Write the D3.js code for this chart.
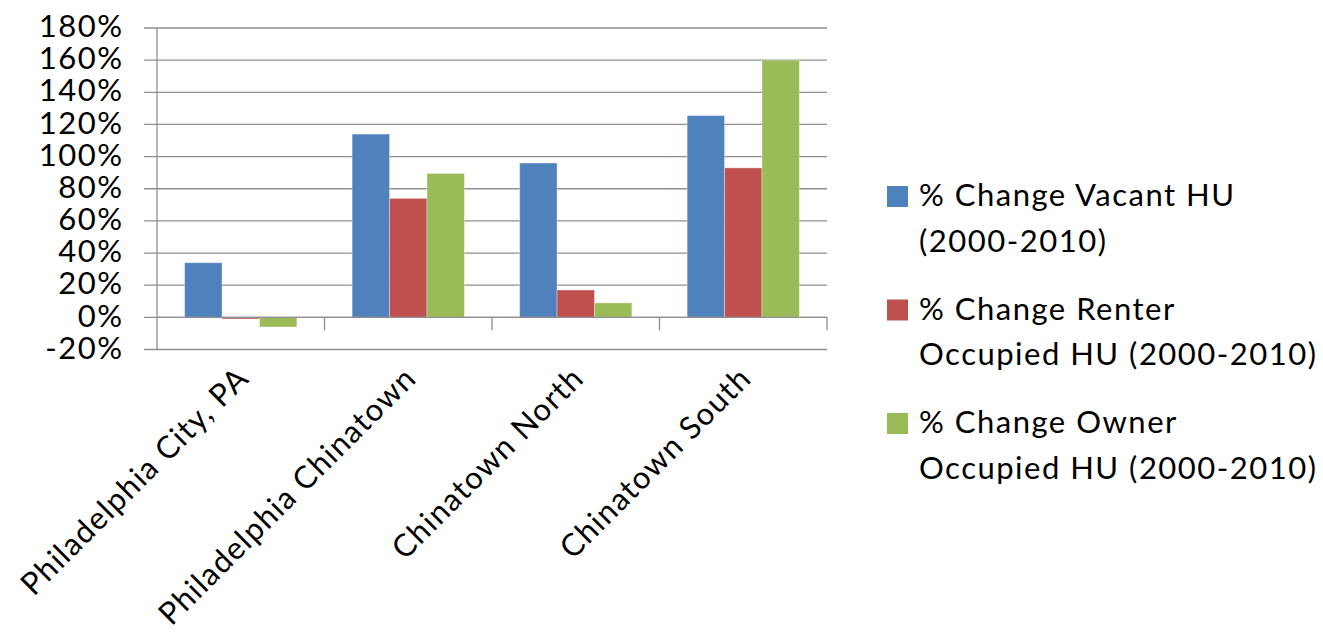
<!DOCTYPE html>
<html>
<head>
<meta charset="utf-8">
<script src="https://cdn.jsdelivr.net/npm/d3@7"></script>
<style>
  html, body { margin: 0; padding: 0; background: #fff; }
</style>
</head>
<body>
<div id="container"></div>
<script>
// data
const categories = ["Philadelphia City, PA", "Philadelphia Chinatown", "Chinatown North", "Chinatown South"];
const seriesNames = [
    ["% Change Vacant HU", "(2000-2010)"],
    ["% Change Renter", "Occupied HU (2000-2010)"],
    ["% Change Owner", "Occupied HU (2000-2010)"]];
const vacant = [34, 114, 96, 125.5];
const renter = [-1, 74, 17, 93];
const owner = [-6, 89.5, 9, 160];
const yTicks = [-20, 0, 20, 40, 60, 80, 100, 120, 140, 160, 180];

// svg size
const width = 1323;
const height = 633;

// plot area
const plotLeft = 157;
const plotRight = 827;
const plotTop = 28;
const plotBottom = 349.5;

const fontFamily = "Lato, 'Open Sans', sans-serif";
const tickFontSize = "31px";
const letterSpacing = "1.5px"; // calibri-ish width
const gridColor = "#8f8f8f";
const colors = ["#4f81bd", "#c0504d", "#9bbb59"];

const svg = d3.select("#container").append("svg")
      .attr("width", width)
      .attr("height", height);

svg.append("rect")
    .attr("width", width)
    .attr("height", height)
    .attr("fill", "#fff");

const y = d3.scaleLinear()
      .domain([-20, 180])
      .range([plotBottom, plotTop]);

const x = d3.scaleBand()
      .domain(categories)
      .range([plotLeft, plotRight])
      .padding(0);

// gap width ~ 147% of a bar
const groupPad = x.bandwidth() * 0.165;
const xs = d3.scaleBand()
      .domain(d3.range(seriesNames.length))
      .range([groupPad, x.bandwidth() - groupPad]);

// gridlines + y ticks
svg.append("g")
    .selectAll("line")
    .data(yTicks)
    .join("line")
    .attr("x1", plotLeft - 13)
    .attr("x2", plotRight)
    .attr("y1", d => y(d))
    .attr("y2", d => y(d))
    .attr("stroke", gridColor)
    .attr("stroke-width", 1.3);

svg.append("g")
    .selectAll("text")
    .data(yTicks)
    .join("text")
    .attr("x", 123.5)
    .attr("y", d => y(d) - 2)
    .attr("dy", "0.36em")
    .attr("text-anchor", "end")
    .attr("font-family", fontFamily)
    .attr("font-size", tickFontSize)
    .attr("letter-spacing", letterSpacing)
    .attr("fill", "#000")
    .text(d => d + "%");

// y axis line
svg.append("line")
    .attr("x1", plotLeft).attr("x2", plotLeft)
    .attr("y1", plotTop).attr("y2", plotBottom)
    .attr("stroke", gridColor)
    .attr("stroke-width", 1.3);

// bars
const values = [vacant, renter, owner];
const barData = [];
categories.forEach((c, i) => values.forEach((v, s) => barData.push({cat: c, s: s, v: v[i]})));

svg.append("g")
    .selectAll("rect")
    .data(barData)
    .join("rect")
    .attr("x", d => x(d.cat) + xs(d.s))
    .attr("width", xs.bandwidth())
    .attr("y", d => Math.min(y(d.v), y(0)))
    .attr("height", d => Math.abs(y(d.v) - y(0)))
    .attr("fill", d => colors[d.s])
    .attr("stroke", "#fff")
    .attr("stroke-opacity", 0.35)
    .attr("stroke-width", 1);

// x axis at zero + category ticks
svg.append("line")
    .attr("x1", plotLeft).attr("x2", plotRight)
    .attr("y1", y(0)).attr("y2", y(0))
    .attr("stroke", gridColor)
    .attr("stroke-width", 1.3);

svg.append("g")
    .selectAll("line")
    .data(categories.map(c => x(c) + x.bandwidth()))
    .join("line")
    .attr("x1", d => d).attr("x2", d => d)
    .attr("y1", y(0)).attr("y2", y(0) + 13)
    .attr("stroke", gridColor)
    .attr("stroke-width", 1.3);

// category labels, rotated
svg.append("g")
    .selectAll("text")
    .data(categories)
    .join("text")
    .attr("transform", d => `translate(${x(d) + x.bandwidth() / 2 + 10}, 380) rotate(-45)`)
    .attr("text-anchor", "end")
    .attr("font-family", fontFamily)
    .attr("font-size", tickFontSize)
    .attr("letter-spacing", "1.3px")
    .attr("fill", "#000")
    .text(d => d);

// legend
const legendX = 887;
const legendTop = [186, 299.5, 413];
const legend = svg.append("g")
      .selectAll("g")
      .data(seriesNames)
      .join("g")
      .attr("transform", (d, i) => `translate(${legendX}, ${legendTop[i]})`);

legend.append("rect")
    .attr("width", 21)
    .attr("height", 21)
    .attr("fill", (d, i) => colors[i]);

legend.append("text")
    .attr("font-family", fontFamily)
    .attr("font-size", tickFontSize)
    .attr("letter-spacing", letterSpacing)
    .attr("fill", "#000")
    .selectAll("tspan")
    .data(d => d)
    .join("tspan")
    .attr("x", 32)
    .attr("y", (d, i) => 20 + i * 45.5)
    .text(d => d);
</script>
</body>
</html>
